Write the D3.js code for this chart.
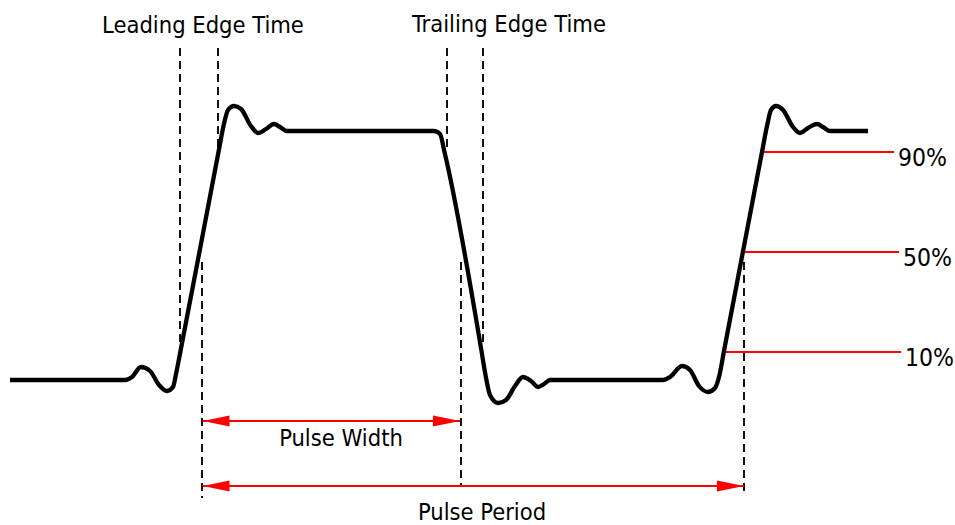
<!DOCTYPE html>
<html>
<head>
<meta charset="utf-8">
<script src="https://cdn.jsdelivr.net/npm/d3@7"></script>
<style>
  html, body { margin: 0; padding: 0; background: #fff; }
  svg { display: block; }
  text { font-family: "DejaVu Sans Condensed", "DejaVu Sans", sans-serif; fill: #000; }
</style>
</head>
<body>
<svg id="chart" width="955" height="525"></svg>
<script>
// ---- Data (time units, level in % of pulse amplitude) ----
const waveTime = [0, 23, 24.4, 26.2, 28, 29.8, 31.4, 32.6, 33.2, 34.1, 41.7, 42.7, 43.6, 44.8, 46.2, 48.2, 49.6, 51.2, 52.8, 54, 55.4,
  84.8, 86, 86.9, 94.3, 95.1, 96, 97.6, 99.2, 101, 102.6, 104.2, 105.6, 106.8, 108,
  130.6, 132, 134.4, 136, 137.8, 139.6, 141, 141.9, 142.8, 150.4, 151.4, 152.2, 153.2, 154.6, 156.6, 158, 159.6, 161.4, 162.6, 164, 171.6];
const waveLevel = [-1.2, -1.2, 0, 4, 2.4, -3.2, -5.6, -4, 1.2, 10.4, 90, 100.4, 106.8, 108.4, 107.2, 100.4, 97.6, 99.2, 101.2, 100, 98.4,
  98.4, 97.2, 90, 10.4, 0.8, -7.2, -10.4, -9.2, -3.6, 0, -1.6, -4, -2.8, -1.2,
  -1.2, 0, 4.4, 2.8, -3.6, -6, -4.4, 0.8, 10.4, 90, 100.4, 106.8, 108.4, 106.8, 100, 97.6, 99.6, 101.2, 100, 98.4, 98.4];

// threshold reference levels
const thresholdLabels = ["10%", "50%", "90%"];
const thresholdLevels = [10, 50, 90];
const thresholdStart = [142.8, 146.6, 150.4];
const thresholdEnd = [178.2, 177.8, 176.8];

// dashed guide lines: time, from level, to level
const guideTime = [34, 41.6, 87.4, 94.6, 38.4, 90.2, 146.8];
const guideFrom = [131.6, 131.6, 131.6, 131.6, 46, 46, 46];
const guideTo = [12.8, 90.8, 92, 12, -48.4, -44, -46];

// measurement arrows
const arrowNames = ["Pulse Width", "Pulse Period"];
const arrowStart = [38.5, 38.5];
const arrowEnd = [90, 146.8];
const arrowLevel = [-17.6, -43.6];
const arrowLabelTime = [66.2, 94.4];
const arrowLabelLevel = [-27.6, -57.2];

// edge-time captions
const edgeNames = ["Leading Edge Time", "Trailing Edge Time"];
const edgeTime = [38.6, 99.8];
const edgeLevel = [137.6, 138];

// ---- Drawing ----
const svg = d3.select("#chart");
const x = d3.scaleLinear().domain([0, 171.6]).range([10, 868]);
const y = d3.scaleLinear().domain([0, 100]).range([377, 127]);

svg.append("defs").append("marker")
  .attr("id", "arrowhead")
  .attr("viewBox", "0 0 27 12")
  .attr("refX", 27).attr("refY", 6)
  .attr("markerWidth", 27).attr("markerHeight", 12)
  .attr("markerUnits", "userSpaceOnUse")
  .attr("orient", "auto-start-reverse")
  .append("path").attr("d", "M0,0.5 L27,6 L0,11.5 Z").attr("fill", "#ff0000");

// dashed guides
svg.append("g").selectAll("line").data(guideTime).join("line")
  .attr("x1", d => x(d)).attr("x2", d => x(d))
  .attr("y1", (d, i) => y(guideFrom[i])).attr("y2", (d, i) => y(guideTo[i]))
  .attr("stroke", "#111").attr("stroke-width", 2)
  .attr("stroke-dasharray", "8,5");

// threshold lines
svg.append("g").selectAll("line").data(thresholdLevels).join("line")
  .attr("x1", (d, i) => x(thresholdStart[i])).attr("x2", (d, i) => x(thresholdEnd[i]))
  .attr("y1", d => y(d)).attr("y2", d => y(d))
  .attr("stroke", "#ff0000").attr("stroke-width", 2);

svg.append("g").selectAll("text").data(thresholdLevels).join("text")
  .attr("x", (d, i) => x(thresholdEnd[i]) + 4)
  .attr("y", d => y(d) + 14)
  .attr("font-size", 24.5)
  .text((d, i) => thresholdLabels[i]);

// waveform
const pts = waveTime.map((t, i) => [t, waveLevel[i]]);
const line = d3.line().x(d => x(d[0])).y(d => y(d[1])).curve(d3.curveMonotoneX);
svg.append("path").datum(pts)
  .attr("d", line)
  .attr("fill", "none").attr("stroke", "#000").attr("stroke-width", 4.3)
  .attr("stroke-linejoin", "round").attr("stroke-linecap", "butt");

// arrows
svg.append("g").selectAll("line").data(arrowNames).join("line")
  .attr("x1", (d, i) => x(arrowStart[i])).attr("x2", (d, i) => x(arrowEnd[i]))
  .attr("y1", (d, i) => y(arrowLevel[i])).attr("y2", (d, i) => y(arrowLevel[i]))
  .attr("stroke", "#ff0000").attr("stroke-width", 2)
  .attr("marker-start", "url(#arrowhead)").attr("marker-end", "url(#arrowhead)");

svg.append("g").selectAll("text").data(arrowNames).join("text")
  .attr("x", (d, i) => x(arrowLabelTime[i]))
  .attr("y", (d, i) => y(arrowLabelLevel[i]))
  .attr("text-anchor", "middle").attr("font-size", 23.5)
  .text(d => d);

svg.append("g").selectAll("text").data(edgeNames).join("text")
  .attr("x", (d, i) => x(edgeTime[i]))
  .attr("y", (d, i) => y(edgeLevel[i]))
  .attr("text-anchor", "middle").attr("font-size", 23.5)
  .text(d => d);
</script>
</body>
</html>
